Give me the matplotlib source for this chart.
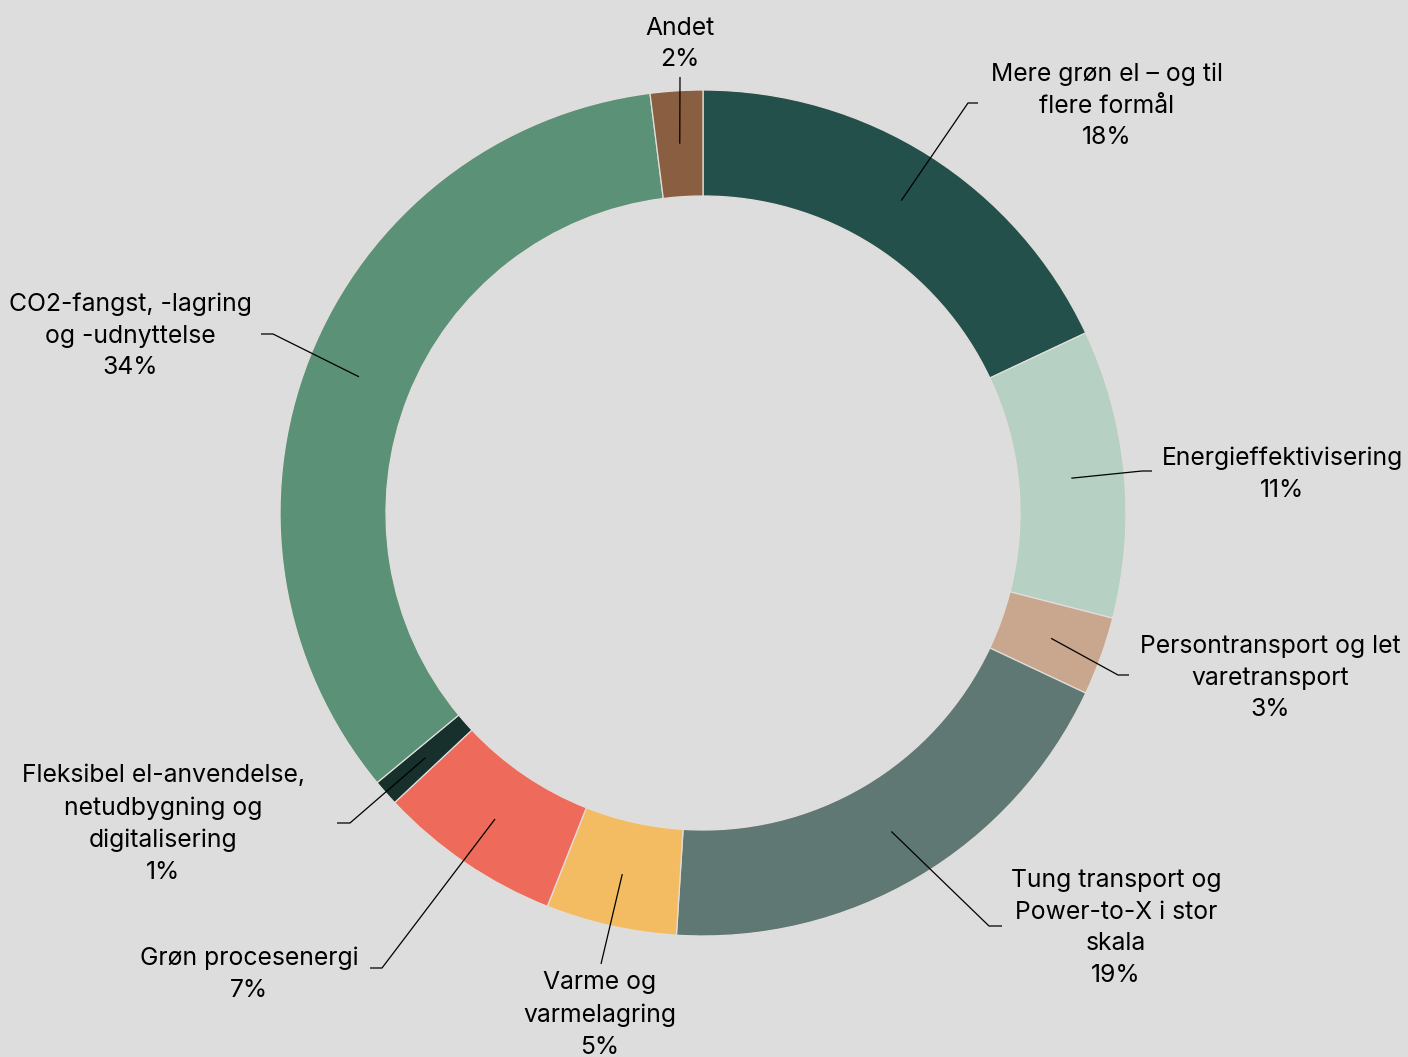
import numpy as np
import matplotlib.pyplot as plt

plt.rcParams['font.family'] = ['Inter', 'DejaVu Sans']

# Andel pr. indsatsområde (%), med uret fra kl. 12
labels = ['Mere grøn el – og til\nflere formål',
          'Energieffektivisering',
          'Persontransport og let\nvaretransport',
          'Tung transport og\nPower-to-X i stor\nskala',
          'Varme og\nvarmelagring',
          'Grøn procesenergi',
          'Fleksibel el-anvendelse,\nnetudbygning og\ndigitalisering',
          'CO2-fangst, -lagring\nog -udnyttelse',
          'Andet']
shares = [18, 11, 3, 19, 5, 7, 1, 34, 2]
colors = ['#24504c', '#b6d0c3', '#c9a78e', '#607873', '#f4bc62',
          '#ee6a5a', '#17302c', '#5b9176', '#8a5e40']

# label layout in pixels (y from top): text centre, elbow, end of leader
text_pos = [(1107, 106), (1282, 474), (1270, 678), (1116, 928), (600, 1015),
            (249, 974), (163, 824), (130, 336), (680, 44)]
elbow_pos = [(968, 103), (1142, 471), (1118, 675), (989, 926), (601, 964),
             (382, 968), (350, 823), (273, 334), (680, 77)]
end_pos = [(978, 103), (1152, 471), (1129, 675), (1002, 926), None,
           (370, 968), (337, 823), (261, 334), None]

W, H = 1408, 1057
bg = '#dcdddc'
fig = plt.figure(figsize=(W / 100, H / 100), dpi=100, facecolor=bg)
ax = fig.add_axes([0, 0, 1, 1])
ax.set_facecolor(bg)

cx, cy = 703, H - 513
R, ring = 423, 106

ax.pie(shares, colors=colors, startangle=90, counterclock=False,
       radius=R, center=(cx, cy), frame=True,
       wedgeprops=dict(width=ring, edgecolor='#e2dedb', linewidth=0.9))
ax.set_xlim(0, W)
ax.set_ylim(0, H)
ax.set_aspect('equal')
ax.axis('off')

r_mid = R - ring / 2
cum = np.cumsum([0] + shares[:-1])
for i, (lab, s) in enumerate(zip(labels, shares)):
    mid = np.deg2rad((cum[i] + s / 2) / 100 * 360)
    x0 = cx + r_mid * np.sin(mid)
    y0 = cy + r_mid * np.cos(mid)
    ex, ey = elbow_pos[i]
    xs, ys = [x0, ex], [y0, H - ey]
    if end_pos[i] is not None:
        xs.append(end_pos[i][0])
        ys.append(H - end_pos[i][1])
    ax.plot(xs, ys, color='black', lw=0.9, solid_capstyle='butt')
    tx, ty = text_pos[i]
    ax.text(tx, H - ty, f'{lab}\n{s}%', ha='center', va='center',
            fontsize=17.8, linespacing=1.48, color='black')

fig.savefig('out.png', dpi=100, facecolor=bg)
